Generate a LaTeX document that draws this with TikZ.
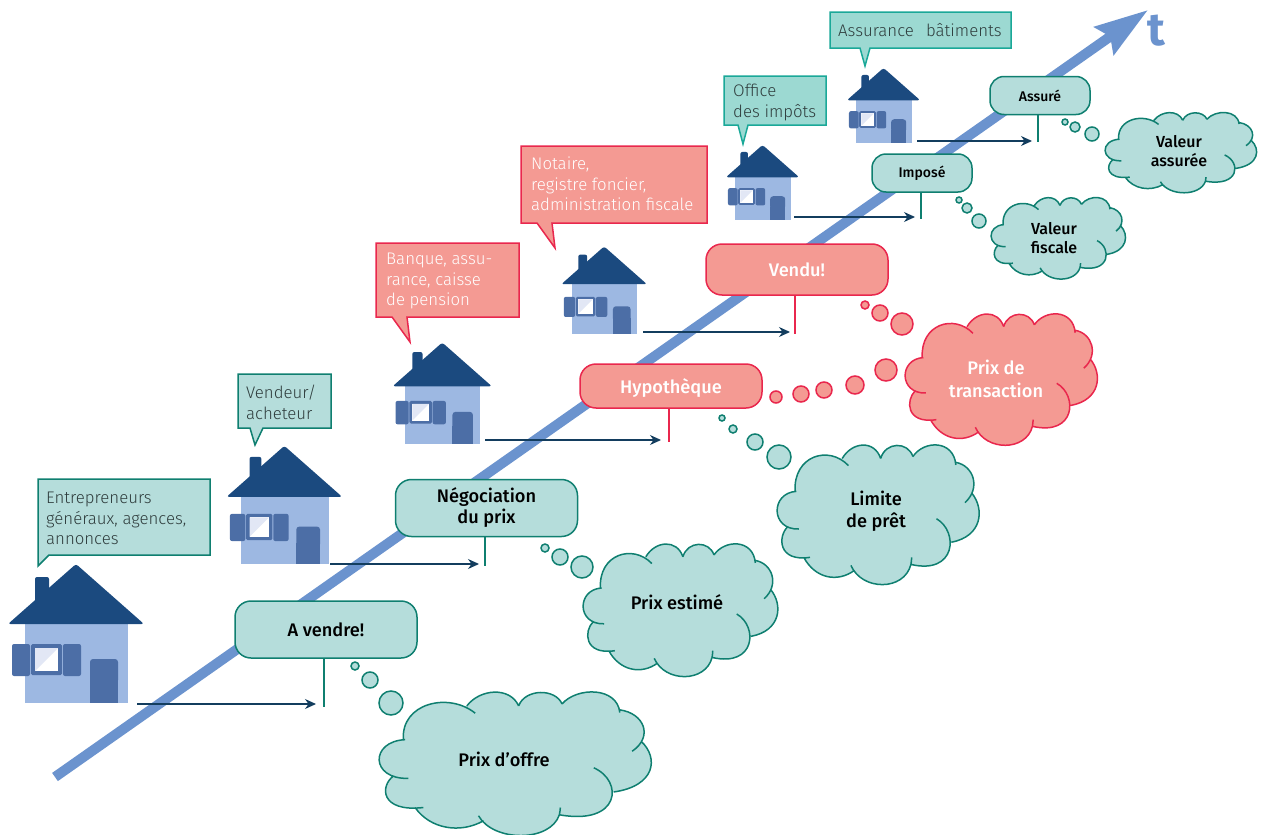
\documentclass[tikz,border=0pt]{standalone}
\usepackage{fontspec}
\setmainfont{Fira Sans Light}
\newfontfamily\medfont{Fira Sans Medium}
\newfontfamily\boldfont{Fira Sans}[BoldFont={Fira Sans Bold}]
\usetikzlibrary{arrows.meta}
\definecolor{axisblue}{HTML}{6B93CE}
\definecolor{roofblue}{HTML}{1B4A7F}
\definecolor{wallblue}{HTML}{9DB8E2}
\definecolor{shutterblue}{HTML}{4C6EA6}
\definecolor{paleblue}{HTML}{E2E7F5}
\definecolor{arrowblue}{HTML}{133D5E}
\definecolor{greenfill}{HTML}{B5DDDB}
\definecolor{greenline}{HTML}{0F7F70}
\definecolor{tealfill}{HTML}{9CD9D2}
\definecolor{tealline}{HTML}{1AA898}
\definecolor{redfill}{HTML}{F49A93}
\definecolor{redline}{HTML}{E9274D}
\definecolor{inkgray}{HTML}{2F3D3D}
\tikzset{
  green/.style={draw=greenline,fill=greenfill,line width=1.5pt},
  red/.style={draw=redline,fill=redfill,line width=1.5pt},
  teal/.style={draw=tealline,fill=tealfill,line width=1.5pt},
  bigtag/.style={rounded corners=16pt,minimum width=182pt,minimum height=57pt,align=center,
    font=\medfont\fontsize{18.2}{21}\selectfont},
  smalltag/.style={rounded corners=14pt,minimum width=100pt,minimum height=38pt,align=center,
    font=\medfont\fontsize{14}{16}\selectfont},
  cloudtext/.style={align=center,font=\medfont\fontsize{18.2}{22.5}\selectfont},
  smallcloudtext/.style={align=center,font=\medfont\fontsize{16}{19}\selectfont},
  bubbletext/.style={anchor=north west,align=left,inner sep=0pt,text=inkgray,
    font=\fontsize{16.8}{20.5}\selectfont},
  timearrow/.style={draw=arrowblue,line width=1.2pt,-{Stealth[length=11pt,width=10pt]}},
  stemgreen/.style={draw=greenline,line width=1.2pt},
  stemred/.style={draw=redline,line width=1.2pt},
  house/.pic={
    \fill[wallblue] (0,0) rectangle (103,-80);
    \fill[roofblue,rounded corners=2pt] (10,-126) rectangle (24,-95);
    \fill[roofblue,rounded corners=2.5pt] (-17,-79) -- (51,-139) -- (119,-79) -- cycle;
    \fill[shutterblue,rounded corners=2pt] (-13,-59) rectangle (5,-27);
    \fill[shutterblue,rounded corners=2pt] (38,-59) rectangle (56,-27);
    \fill[shutterblue,rounded corners=1.5pt] (6,-59) rectangle (37,-28);
    \fill[white] (10,-55) rectangle (33,-32);
    \fill[paleblue] (10,-55) -- (33,-55) -- (10,-32) -- cycle;
    \fill[shutterblue,rounded corners=3pt] (65,-20) rectangle (93,-44);
    \fill[shutterblue] (65,0) rectangle (93,-25);
  },
  cloud/.pic={
    \begin{scope}[shift={(-57,-33)}]
    \fill[pic actions,draw=none] (130,180) -- (200,110) -- (320,78) -- (400,60) -- (475,78) -- (540,60)
      -- (605,72) -- (690,55) -- (778,90) -- (830,140) -- (842,185) -- (860,260) -- (760,338) -- (720,385)
      -- (597,407) -- (480,445) -- (370,425) -- (260,425) -- (165,385) -- (100,350) -- (100,290) -- (70,240) -- cycle;
    \path[pic actions]
      (130,180) .. controls (122,70) and (265,35) .. (345,100)
      (320,78) .. controls (360,25) and (450,20) .. (475,78)
      (475,78) .. controls (495,25) and (585,25) .. (605,72)
      (605,72) .. controls (650,20) and (770,20) .. (778,98)
      (778,90) .. controls (850,100) and (880,170) .. (815,215)
      (842,185) .. controls (895,235) and (885,320) .. (760,338)
      (700,265) .. controls (790,305) and (780,440) .. (597,407) .. controls (598,400) and (600,392) .. (600,385)
      (597,407) .. controls (570,490) and (400,490) .. (355,410)
      (370,425) .. controls (300,465) and (210,450) .. (165,385)
      (190,385) .. controls (60,400) and (60,320) .. (100,290)
      (145,297) .. controls (30,300) and (30,185) .. (135,180);
    \end{scope}
  }
}
\begin{document}
\begin{tikzpicture}[x=1pt,y=-1pt]
  \useasboundingbox (0,0) rectangle (1262,835);

  % time axis
  \coordinate (t0) at (55,777);
  \coordinate (t1) at (1148,10);
  \draw[axisblue,line width=10pt,-{Stealth[length=53pt,width=33pt,inset=7pt]}] (t0) -- (t1);
  \node (tlabel)[text=axisblue,font=\boldfont\bfseries\fontsize{46}{46}\selectfont] at (1156,31) {t};

  % houses
  \foreach \name/\x/\y/\s in {h1/25/703/1,h2/241/564/.85,h3/405/444/.73,h4/572/334/.63,h5/735/220/.54,h6/856/143/.54}
    \pic (\name)[scale=\s] at (\x,\y) {house};

  % callouts
  \path[green] (38,479) -- (210,479) -- (210,555) -- (49,555) -- (38,566) -- cycle;
  \path[green] (238,374) -- (331,374) -- (331,428) -- (263,428) -- (255,445) -- (250,428) -- (238,428) -- cycle;
  \path[red] (376,243) -- (519,243) -- (519,317) -- (407,317) -- (410,342) -- (392,317) -- (376,317) -- cycle;
  \path[red] (521,146) -- (707,146) -- (707,223) -- (552,223) -- (555,248) -- (537,223) -- (521,223) -- cycle;
  \path[teal] (724,76) -- (826,76) -- (826,125) -- (748,125) -- (743,144) -- (738,125) -- (724,125) -- cycle;
  \path[teal] (830,12) -- (1011,12) -- (1011,48) -- (870,48) -- (865,66) -- (860,48) -- (830,48) -- cycle;
  \node (c1)[bubbletext] at (46,492) {Entrepreneurs\\généraux, agences,\\annonces};
  \node (c2)[bubbletext] at (246,385) {Vendeur/\\acheteur};
  \node (c3)[bubbletext,text=white] at (386,253) {Banque, assu-\\rance, caisse\\de pension};
  \node (c4)[bubbletext,text=white] at (531,157) {Notaire,\\registre foncier,\\administration fiscale};
  \node (c5)[bubbletext] at (733,84) {Office\\des impôts};
  \node (c6)[bubbletext] at (838,23) {Assurance\ \ \,bâtiments};

  % tags on the axis
  \node (n1)[green,bigtag] at (326,629.5) {A vendre!};
  \node (n2)[green,bigtag] at (486.5,508) {Négociation\\du prix};
  \node (n3)[red,bigtag,minimum height=44pt,text depth=0pt] at (671,386) {\textcolor{white}{Hypothèque}};
  \node (n4)[red,bigtag,minimum height=51pt] at (797,269.5) {\textcolor{white}{Vendu!}};
  \node (n5)[green,smalltag] at (922,173) {Imposé};
  \node (n6)[green,smalltag] at (1040,95.5) {Assuré};

  % house to tag
  \coordinate (e1) at (324,707);
  \coordinate (e2) at (485,566);
  \coordinate (e3) at (669,442);
  \coordinate (e4) at (795,334);
  \coordinate (e5) at (921,219);
  \coordinate (e6) at (1038,142);
  \coordinate (s1) at (137,704);
  \coordinate (s2) at (330,564);
  \coordinate (s3) at (485,440);
  \coordinate (s4) at (643,332);
  \coordinate (s5) at (794,217);
  \coordinate (s6) at (917,141);
  \foreach \from/\to/\stem in {n1/e1/stemgreen,n2/e2/stemgreen,n3/e3/stemred,n4/e4/stemred,n5/e5/stemgreen,n6/e6/stemgreen}
    \draw[\stem] (\to |- \from.south) -- (\to);
  \foreach \from/\to/\gap in {s1/e1/8,s2/e2/6,s3/e3/8,s4/e4/5,s5/e5/6,s6/e6/6}
    \draw[timearrow] (\from) -- ([xshift=-\gap pt]\to |- \from);

  % clouds
  \pic (p1)[green,xscale=.334,yscale=.331] at (379,691) {cloud};
  \pic (p2)[green,xscale=.239,yscale=.306] at (583,543) {cloud};
  \pic (p3)[green,xscale=.248,yscale=.322] at (777,444) {cloud};
  \pic (p4)[red,xscale=.236,yscale=.303] at (905,313) {cloud};
  \pic (p5)[green,xscale=.165,yscale=.188] at (991,197) {cloud};
  \pic (p6)[green,xscale=.186,yscale=.185] at (1105,112) {cloud};
  \node (v1)[cloudtext] at (504,759) {Prix d’offre};
  \node (v2)[cloudtext] at (677,602) {Prix estimé};
  \node (v3)[cloudtext] at (876,511) {Limite\\de prêt};
  \node (v4)[cloudtext,text=white] at (996,379) {Prix de\\transaction};
  \node (v5)[smallcloudtext] at (1054,238) {Valeur\\fiscale};
  \node (v6)[smallcloudtext] at (1179,151) {Valeur\\assurée};

  % thought bubbles
  \foreach \x/\y/\r in {355/666/4,370/680/8,391/703/12,545/548/4,560/557/8,582/567/11,722/418/3,733/429/4,755/442/8,779/457/12,959/200/3,967/208/5,979/221/7,1065/122/3,1075/127/5,1092/134/7}
    \path[green] (\x,\y) circle (\r);
  \foreach \x/\y/\r in {865/305/4,880/313/8,902/324/11,886/370/11,855/385/9,824/390/8,801/394/8,776/397/6}
    \path[red] (\x,\y) circle (\r);
\end{tikzpicture}
\end{document}
